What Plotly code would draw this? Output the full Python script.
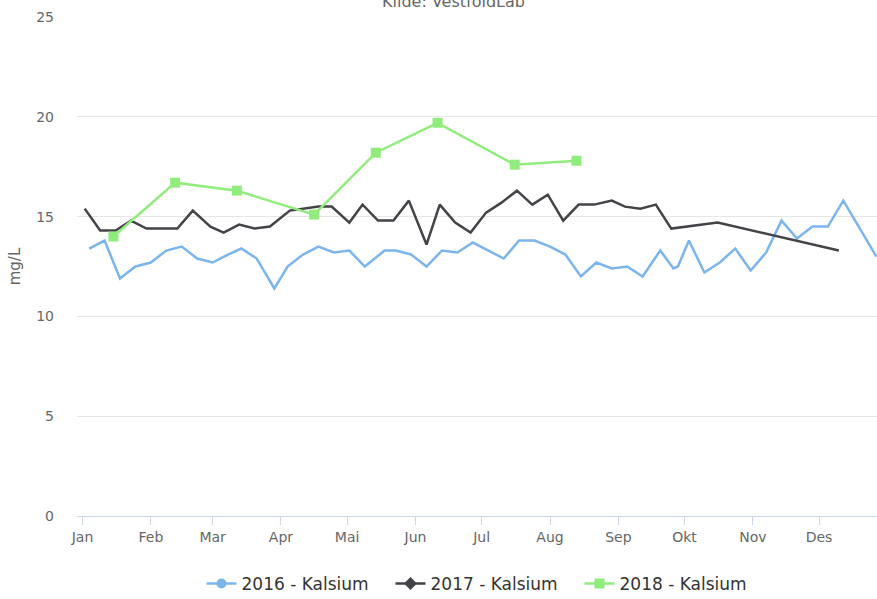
import plotly.graph_objects as go

# Calcium (mg/L), weekly / monthly samples, all years laid over one calendar year
BASE_YEAR = "2017"

MONTHS = ["Jan", "Feb", "Mar", "Apr", "Mai", "Jun", "Jul", "Aug", "Sep", "Okt", "Nov", "Des"]

dates_2016 = [
    "01-04", "01-11", "01-18", "01-25", "02-01", "02-08", "02-15", "02-22",
    "03-01", "03-08", "03-14", "03-21", "03-29", "04-04", "04-11", "04-18",
    "04-25", "05-02", "05-09", "05-18", "05-23", "05-30", "06-06", "06-13",
    "06-20", "06-27", "07-11", "07-18", "07-25", "08-01", "08-08", "08-15",
    "08-22", "08-29", "09-05", "09-12", "09-20", "09-26", "09-28", "10-03",
    "10-10", "10-17", "10-24", "10-31", "11-07", "11-14", "11-21", "11-28",
    "12-05", "12-12", "12-19", "12-27",
]
kalsium_2016 = [
    13.4, 13.8, 11.9, 12.5, 12.7, 13.3, 13.5, 12.9,
    12.7, 13.1, 13.4, 12.9, 11.4, 12.5, 13.1, 13.5,
    13.2, 13.3, 12.5, 13.3, 13.3, 13.1, 12.5, 13.3,
    13.2, 13.7, 12.9, 13.8, 13.8, 13.5, 13.1, 12.0,
    12.7, 12.4, 12.5, 12.0, 13.3, 12.4, 12.5, 13.8,
    12.2, 12.7, 13.4, 12.3, 13.2, 14.8, 13.9, 14.5,
    14.5, 15.8, 14.5, 13.0,
]

dates_2017 = [
    "01-02", "01-09", "01-16", "01-23", "01-30", "02-13", "02-20", "02-28",
    "03-06", "03-13", "03-20", "03-27", "04-05", "04-12", "04-18", "04-24",
    "05-02", "05-08", "05-15", "05-22", "05-29", "06-06", "06-12", "06-19",
    "06-26", "07-03", "07-10", "07-17", "07-24", "07-31", "08-07", "08-14",
    "08-21", "08-29", "09-04", "09-11", "09-18", "09-25", "10-16", "12-10",
]
kalsium_2017 = [
    15.4, 14.3, 14.3, 14.8, 14.4, 14.4, 15.3, 14.5,
    14.2, 14.6, 14.4, 14.5, 15.3, 15.4, 15.5, 15.5,
    14.7, 15.6, 14.8, 14.8, 15.8, 13.6, 15.6, 14.7,
    14.2, 15.2, 15.7, 16.3, 15.6, 16.1, 14.8, 15.6,
    15.6, 15.8, 15.5, 15.4, 15.6, 14.4, 14.7, 13.3,
]

dates_2018 = ["01-15", "02-12", "03-12", "04-16", "05-14", "06-11", "07-16", "08-13"]
kalsium_2018 = [14.0, 16.7, 16.3, 15.1, 18.2, 19.7, 17.6, 17.8]

SERIES = [
    ("2016 - Kalsium", dates_2016, kalsium_2016, "#7cb5ec", "circle", False),
    ("2017 - Kalsium", dates_2017, kalsium_2017, "#434348", "diamond", False),
    ("2018 - Kalsium", dates_2018, kalsium_2018, "#90ed7d", "square", True),
]

FONT = "DejaVu Sans, sans-serif"

fig = go.Figure()

for name, dates, values, color, symbol, show_markers in SERIES:
    x = [f"{BASE_YEAR}-{d}" for d in dates]
    fig.add_trace(go.Scatter(
        x=x, y=values, name=name,
        mode="lines+markers" if show_markers else "lines",
        line=dict(color=color, width=2.5),
        marker=dict(symbol=symbol, size=10, color=color),
        showlegend=False,
    ))
    # legend entry with line + marker like the original
    fig.add_trace(go.Scatter(
        x=[None], y=[None], name=name,
        mode="lines+markers",
        line=dict(color=color, width=2.5),
        marker=dict(symbol=symbol, size=10, color=color),
    ))

fig.add_annotation(
    text="Kilde: VestfoldLab", xref="paper", yref="paper",
    x=0.47, y=1, yanchor="middle", yshift=16, showarrow=False,
    font=dict(family=FONT, size=16, color="#666666"),
)

fig.update_layout(
    width=877, height=599,
    paper_bgcolor="white", plot_bgcolor="white",
    font=dict(family=FONT, size=13, color="#666666"),
    margin=dict(l=77, r=0, t=17, b=83, autoexpand=False),
    legend=dict(
        orientation="h", x=0.51, xanchor="center", y=-0.136, yanchor="middle",
        font=dict(family=FONT, size=17, color="#333333"),
        itemwidth=30, entrywidth=144,
    ),
)

fig.update_xaxes(
    type="date",
    range=["2016-12-29 12:00", "2017-12-27 07:00"],
    tickvals=[f"{BASE_YEAR}-{m:02d}-01" for m in range(1, 13)],
    ticktext=MONTHS,
    showgrid=False, zeroline=False,
    showline=True, linecolor="#ccd6eb", linewidth=1,
    ticks="outside", ticklen=8, tickcolor="#ccd6eb",
    tickfont=dict(size=14, color="#666666"),
)
fig.update_yaxes(
    range=[0, 25], dtick=5,
    gridcolor="#e6e6e6", zeroline=False,
    ticklabelstandoff=22,
    tickfont=dict(size=14, color="#666666"),
    title=dict(text="mg/L", font=dict(size=15, color="#666666"), standoff=11),
)

# drop the browser's default body margin so the figure sits at the page corner
fig.write_html(
    "out.html",
    config={"displayModeBar": False},
    post_script="document.body.style.margin='0px';",
)
